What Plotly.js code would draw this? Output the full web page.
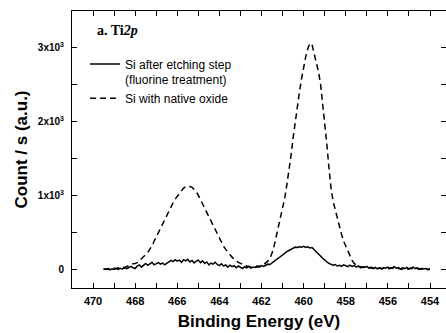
<!DOCTYPE html>
<html>
<head>
<meta charset="utf-8">
<script src="https://cdn.plot.ly/plotly-3.0.1.min.js"></script>
<style>html,body{margin:0;padding:0;background:#fff;}#chart{width:446px;height:333px;}</style>
</head>
<body>
<div id="chart"></div>
<script>
var energy = [
469.5,469.4,469.3,469.2,469.1,469.0,468.9,468.8,468.7,468.6,468.5,468.4,468.3,468.2,468.1,468.0,
467.9,467.8,467.7,467.6,467.5,467.4,467.3,467.2,467.1,467.0,466.9,466.8,466.7,466.6,466.5,466.4,
466.3,466.2,466.1,466.0,465.9,465.8,465.7,465.6,465.5,465.4,465.3,465.2,465.1,465.0,464.9,464.8,
464.7,464.6,464.5,464.4,464.3,464.2,464.1,464.0,463.9,463.8,463.7,463.6,463.5,463.4,463.3,463.2,
463.1,463.0,462.9,462.8,462.7,462.6,462.5,462.4,462.3,462.2,462.1,462.0,461.9,461.8,461.7,461.6,
461.5,461.4,461.3,461.2,461.1,461.0,460.9,460.8,460.7,460.6,460.5,460.4,460.3,460.2,460.1,460.0,
459.9,459.8,459.7,459.6,459.5,459.4,459.3,459.2,459.1,459.0,458.9,458.8,458.7,458.6,458.5,458.4,
458.3,458.2,458.1,458.0,457.9,457.8,457.7,457.6,457.5,457.4,457.3,457.2,457.1,457.0,456.9,456.8,
456.7,456.6,456.5,456.4,456.3,456.2,456.1,456.0,455.9,455.8,455.7,455.6,455.5,455.4,455.3,455.2,
455.1,455.0,454.9,454.8,454.7,454.6,454.5,454.4,454.3,454.2,454.1,454.0];

var etched = [
0,5,0,-5,5,0,10,0,15,5,20,10,25,40,20,10,
45,60,30,50,80,55,70,95,60,75,90,70,85,60,75,100,
120,105,130,110,125,95,130,115,135,100,120,85,110,125,90,115,
80,100,60,85,70,95,65,50,75,45,60,30,55,35,50,20,
45,30,10,35,20,40,15,30,25,45,30,50,40,55,70,65,
90,110,130,150,175,195,215,240,255,270,285,300,295,305,300,310,
295,305,290,295,265,240,215,180,150,120,100,80,70,55,65,45,
55,40,60,45,35,55,40,50,30,45,20,35,25,40,15,30,
10,25,5,20,10,25,15,30,10,20,35,15,25,5,20,10,
25,5,15,30,10,20,0,15,5,10,0,5];

var nativeOxide = [
0,5,0,10,5,15,10,20,15,30,25,40,45,60,75,80,
90,115,140,165,200,230,270,320,380,440,500,560,620,680,740,800,
850,900,950,990,1030,1070,1100,1120,1125,1120,1110,1080,1050,1000,950,890,
830,770,710,650,590,530,470,410,360,310,270,230,195,165,140,115,
95,80,65,55,45,40,30,35,25,30,45,40,60,80,110,150,
220,320,440,560,680,800,960,1140,1330,1540,1780,2000,2200,2400,2580,2740,
2880,2990,3060,3040,2920,2820,2680,2520,2260,1960,1700,1380,1100,920,800,700,
580,470,380,310,250,180,120,80,55,40,35,25,30,20,25,15,
20,10,15,20,5,15,10,5,15,20,10,5,15,0,5,10,
0,5,15,5,0,10,5,-5,0,5,-5,0];

var seriesNames = ["Si after etching step<br>(fluorine treatment)", "Si with native oxide"];
var xTickVals = [470,468,466,464,462,460,458,456,454];
var xTickText = ["470","468","466","464","462","460","458","456","454"];
var xMinorVals = [471,469,467,465,463,461,459,457,455];
var yTickVals = [0,1000,2000,3000];
var yTickText = ["0","1x10<sup>3</sup>","2x10<sup>3</sup>","3x10<sup>3</sup>"];
var yMinorVals = [500,1500,2500];

var FONT = "Liberation Sans, Arial, sans-serif";

var traces = [
  {x: energy, y: etched, name: seriesNames[0], type: "scatter", mode: "lines",
   line: {color: "#000", width: 1.5}},
  {x: energy, y: nativeOxide, name: seriesNames[1], type: "scatter", mode: "lines",
   line: {color: "#000", width: 1.5, dash: "6px,4px"}},
  {x: [null], y: [null], yaxis: "y2", showlegend: false, hoverinfo: "skip", mode: "lines"}
];

var layout = {
  width: 446, height: 333,
  margin: {l: 72, r: 0, t: 11, b: 45, pad: 0},
  paper_bgcolor: "#fff", plot_bgcolor: "#fff",
  showlegend: true,
  legend: {x: 0.035, y: 0.86, xanchor: "left", yanchor: "top", valign: "top",
           bgcolor: "rgba(0,0,0,0)", borderwidth: 0, tracegroupgap: 0,
           font: {family: FONT, size: 12, color: "#000"}},
  xaxis: {range: [471, 453.24], tickvals: xTickVals, ticktext: xTickText,
          ticks: "inside", ticklen: 5, tickwidth: 1, tickcolor: "#000",
          minor: {tickvals: xMinorVals, ticks: "inside", ticklen: 5, tickwidth: 1, tickcolor: "#000", showgrid: false},
          showline: true, linecolor: "#000", linewidth: 1, mirror: "allticks",
          showgrid: false, zeroline: false, ticklabelstandoff: 3,
          tickfont: {family: FONT, size: 11, color: "#000", weight: "bold"},
          title: {text: "Binding Energy (eV)", standoff: 8,
                  font: {family: FONT, size: 17, color: "#000", weight: "bold"}}},
  yaxis: {range: [-253, 3497], tickvals: yTickVals, ticktext: yTickText,
          ticks: "inside", ticklen: 5, tickwidth: 1, tickcolor: "#000",
          minor: {tickvals: yMinorVals, ticks: "inside", ticklen: 5, tickwidth: 1, tickcolor: "#000", showgrid: false},
          showline: true, linecolor: "#000", linewidth: 1, mirror: false,
          showgrid: false, zeroline: false, ticklabelstandoff: 5,
          tickfont: {family: FONT, size: 10, color: "#000", weight: "bold"},
          title: {text: "Count / s (a.u.)", standoff: 5,
                  font: {family: FONT, size: 17, color: "#000", weight: "bold"}}},
  yaxis2: {overlaying: "y", side: "right", matches: "y", range: [-253, 3497],
           tickvals: yTickVals, showticklabels: false,
           ticks: "inside", ticklen: 5, tickwidth: 1, tickcolor: "#000",
           minor: {tickvals: yMinorVals, ticks: "inside", ticklen: 5, tickwidth: 1, tickcolor: "#000", showgrid: false},
           showline: false, showgrid: false, zeroline: false},
  annotations: [{xref: "paper", yref: "paper", x: 0.061, y: 0.928,
                 xanchor: "left", yanchor: "middle", showarrow: false,
                 text: "<b>a. Ti<i>2p</i></b>",
                 font: {family: "Liberation Serif, Times New Roman, serif", size: 14, color: "#000"}}]
};

Plotly.newPlot("chart", traces, layout, {displayModeBar: false, staticPlot: true});
</script>
</body>
</html>
